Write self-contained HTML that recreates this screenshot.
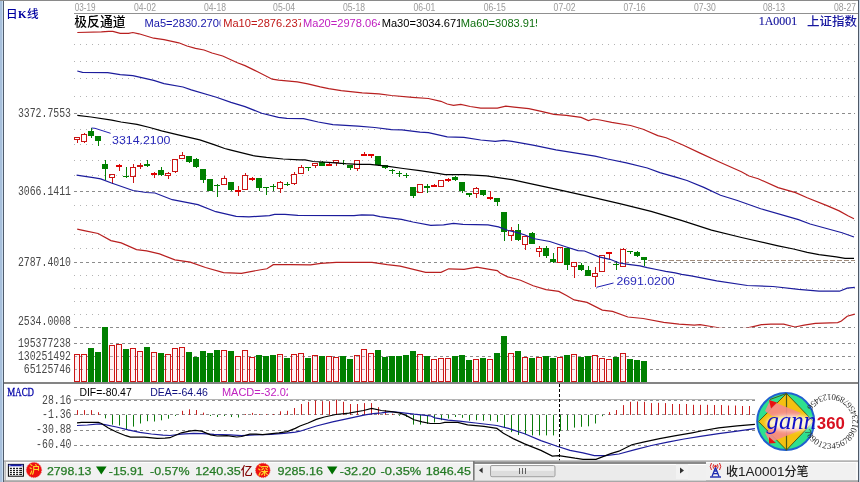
<!DOCTYPE html>
<html><head><meta charset="utf-8"><title>K</title><style>
html,body{margin:0;padding:0;background:#fff;width:860px;height:482px;overflow:hidden}
svg{display:block}
.dt{font-family:"Liberation Sans",sans-serif;font-size:10.3px;fill:#9a9a9a}
.cjk{font-family:"Liberation Sans","Noto Sans CJK SC",sans-serif;font-weight:500}
.lg{font-family:"Liberation Sans",sans-serif;font-size:11.5px}
.mono{font-family:"Liberation Mono",monospace}
.serif{font-family:"Liberation Serif",serif}
.ax{font-family:"Liberation Mono",monospace;font-size:12px;fill:#484848}
.an{font-family:"Liberation Sans",sans-serif;font-size:11.5px;fill:#2828b8}
.sb{font-family:"Liberation Sans",sans-serif;font-size:11.6px;stroke:#247a24;stroke-width:0.25px}
.sb2{font-family:"Liberation Sans",sans-serif}
</style></head>
<body><svg width="860" height="482" viewBox="0 0 860 482">
<rect x="0" y="0" width="860" height="482" fill="#fff"/>
<rect x="0" y="0" width="2" height="482" fill="#a8c0dc"/>
<rect x="2" y="0" width="1" height="482" fill="#c8dcf0"/>
<rect x="3" y="0" width="1" height="482" fill="#505c6c"/>
<rect x="0" y="0" width="860" height="1" fill="#8a8a8a"/>
<rect x="858" y="0" width="1" height="482" fill="#4e5866"/>
<rect x="859" y="0" width="1" height="482" fill="#ccd8e8"/>
<rect x="74" y="13" width="784" height="1" fill="#909090"/>
<text x="74.7" y="11.3" class="dt" textLength="20.8" lengthAdjust="spacingAndGlyphs">03-19</text>
<text x="134" y="11.3" class="dt" textLength="22" lengthAdjust="spacingAndGlyphs">04-02</text>
<text x="204" y="11.3" class="dt" textLength="22" lengthAdjust="spacingAndGlyphs">04-18</text>
<text x="273.1" y="11.3" class="dt" textLength="22" lengthAdjust="spacingAndGlyphs">05-04</text>
<text x="343" y="11.3" class="dt" textLength="22" lengthAdjust="spacingAndGlyphs">05-18</text>
<text x="413.4" y="11.3" class="dt" textLength="22" lengthAdjust="spacingAndGlyphs">06-01</text>
<text x="483.8" y="11.3" class="dt" textLength="22" lengthAdjust="spacingAndGlyphs">06-15</text>
<text x="553.6" y="11.3" class="dt" textLength="22" lengthAdjust="spacingAndGlyphs">07-02</text>
<text x="623.6" y="11.3" class="dt" textLength="22" lengthAdjust="spacingAndGlyphs">07-16</text>
<text x="693.9" y="11.3" class="dt" textLength="22" lengthAdjust="spacingAndGlyphs">07-30</text>
<text x="763" y="11.3" class="dt" textLength="22" lengthAdjust="spacingAndGlyphs">08-13</text>
<text x="834" y="11.3" class="dt" textLength="22" lengthAdjust="spacingAndGlyphs">08-27</text>
<text x="5.9" y="17.9" class="cjk" fill="#0000a0" font-size="11.6">日<tspan font-family="Liberation Serif" font-weight="bold" font-size="11" dx="0.6">K</tspan><tspan dx="0.4">线</tspan></text>
<text x="74.3" y="26.4" class="cjk" fill="#000" font-size="12.8">极反通道</text>
<defs>
<clipPath id="lc0"><rect x="143.5" y="14" width="77.0" height="14"/></clipPath>
<clipPath id="lc1"><rect x="222.2" y="14" width="78.80000000000001" height="14"/></clipPath>
<clipPath id="lc2"><rect x="302" y="14" width="78" height="14"/></clipPath>
<clipPath id="lc3"><rect x="380.7" y="14" width="79.30000000000001" height="14"/></clipPath>
<clipPath id="lc4"><rect x="459.8" y="14" width="77.19999999999999" height="14"/></clipPath>
<clipPath id="mainc"><rect x="74" y="14" width="784" height="313.4"/></clipPath>
<clipPath id="stc"><rect x="0" y="460" width="473" height="22"/></clipPath>
</defs>
<text x="144.5" y="26.7" class="lg" font-size="11.2" fill="#1414a8" clip-path="url(#lc0)" textLength="80.6" lengthAdjust="spacingAndGlyphs">Ma5=2830.2700</text>
<text x="223.2" y="26.7" class="lg" font-size="11.2" fill="#c01818" clip-path="url(#lc1)" textLength="80.6" lengthAdjust="spacingAndGlyphs">Ma10=2876.237</text>
<text x="303" y="26.7" class="lg" font-size="11.2" fill="#c020c0" clip-path="url(#lc2)" textLength="80.6" lengthAdjust="spacingAndGlyphs">Ma20=2978.064</text>
<text x="381.7" y="26.7" class="lg" font-size="11.2" fill="#000" clip-path="url(#lc3)" textLength="80.6" lengthAdjust="spacingAndGlyphs">Ma30=3034.671</text>
<text x="460.8" y="26.7" class="lg" font-size="11.2" fill="#107010" clip-path="url(#lc4)" textLength="80.6" lengthAdjust="spacingAndGlyphs">Ma60=3083.915</text>
<text x="758.8" y="25.4" class="serif" fill="#12129c" font-size="12" stroke="#12129c" stroke-width="0.15" textLength="38.4" lengthAdjust="spacingAndGlyphs">1A0001</text>
<text x="807" y="25.6" class="cjk" fill="#1818a0" font-size="12.5">上证指数</text>
<line x1="74" y1="44.5" x2="855" y2="44.5" stroke="#b2b2b2" stroke-width="1" stroke-dasharray="1 5"/>
<line x1="74" y1="61.5" x2="855" y2="61.5" stroke="#b2b2b2" stroke-width="1" stroke-dasharray="1 5"/>
<line x1="74" y1="78.5" x2="855" y2="78.5" stroke="#b2b2b2" stroke-width="1" stroke-dasharray="1 5"/>
<line x1="74" y1="96.5" x2="855" y2="96.5" stroke="#b2b2b2" stroke-width="1" stroke-dasharray="1 5"/>
<line x1="74" y1="129.5" x2="855" y2="129.5" stroke="#b2b2b2" stroke-width="1" stroke-dasharray="1 5"/>
<line x1="74" y1="144.5" x2="855" y2="144.5" stroke="#b2b2b2" stroke-width="1" stroke-dasharray="1 5"/>
<line x1="74" y1="160.5" x2="855" y2="160.5" stroke="#b2b2b2" stroke-width="1" stroke-dasharray="1 5"/>
<line x1="74" y1="175.5" x2="855" y2="175.5" stroke="#b2b2b2" stroke-width="1" stroke-dasharray="1 5"/>
<line x1="74" y1="205.5" x2="855" y2="205.5" stroke="#b2b2b2" stroke-width="1" stroke-dasharray="1 5"/>
<line x1="74" y1="220.5" x2="855" y2="220.5" stroke="#b2b2b2" stroke-width="1" stroke-dasharray="1 5"/>
<line x1="74" y1="234.5" x2="855" y2="234.5" stroke="#b2b2b2" stroke-width="1" stroke-dasharray="1 5"/>
<line x1="74" y1="248.5" x2="855" y2="248.5" stroke="#b2b2b2" stroke-width="1" stroke-dasharray="1 5"/>
<line x1="74" y1="275.5" x2="855" y2="275.5" stroke="#b2b2b2" stroke-width="1" stroke-dasharray="1 5"/>
<line x1="74" y1="288.5" x2="855" y2="288.5" stroke="#b2b2b2" stroke-width="1" stroke-dasharray="1 5"/>
<line x1="74" y1="301.5" x2="855" y2="301.5" stroke="#b2b2b2" stroke-width="1" stroke-dasharray="1 5"/>
<line x1="74" y1="314.5" x2="855" y2="314.5" stroke="#b2b2b2" stroke-width="1" stroke-dasharray="1 5"/>
<line x1="74" y1="113.5" x2="855" y2="113.5" stroke="#8c8c8c" stroke-width="1" stroke-dasharray="3 3"/>
<line x1="74" y1="191.5" x2="855" y2="191.5" stroke="#8c8c8c" stroke-width="1" stroke-dasharray="3 3"/>
<line x1="74" y1="262.5" x2="855" y2="262.5" stroke="#8c8c8c" stroke-width="1" stroke-dasharray="3 3"/>
<line x1="74" y1="327.5" x2="855" y2="327.5" stroke="#8c8c8c" stroke-width="1" stroke-dasharray="3 3"/>
<line x1="74" y1="343.5" x2="855" y2="343.5" stroke="#8c8c8c" stroke-width="1" stroke-dasharray="3 3"/>
<line x1="74" y1="356.5" x2="855" y2="356.5" stroke="#8c8c8c" stroke-width="1" stroke-dasharray="3 3"/>
<line x1="74" y1="369.5" x2="855" y2="369.5" stroke="#8c8c8c" stroke-width="1" stroke-dasharray="3 3"/>
<line x1="648" y1="260.5" x2="855" y2="260.5" stroke="#a08c7c" stroke-width="1" stroke-dasharray="5 2"/>
<text x="71" y="116.9" class="ax" text-anchor="end" textLength="53.1" lengthAdjust="spacingAndGlyphs">3372.7553</text>
<text x="71" y="195" class="ax" text-anchor="end" textLength="53.1" lengthAdjust="spacingAndGlyphs">3066.1411</text>
<text x="71" y="266.2" class="ax" text-anchor="end" textLength="53.1" lengthAdjust="spacingAndGlyphs">2787.4010</text>
<text x="71" y="324.8" class="ax" text-anchor="end" textLength="53.1" lengthAdjust="spacingAndGlyphs">2534.0008</text>
<text x="71" y="346.6" class="ax" text-anchor="end" textLength="53.1" lengthAdjust="spacingAndGlyphs">195377238</text>
<text x="71" y="359.7" class="ax" text-anchor="end" textLength="53.1" lengthAdjust="spacingAndGlyphs">130251492</text>
<text x="71" y="372.8" class="ax" text-anchor="end" textLength="47.2" lengthAdjust="spacingAndGlyphs">65125746</text>
<line x1="77.5" y1="139" x2="77.5" y2="143" stroke="#cc1414"/>
<rect x="74.5" y="137.5" width="5" height="2" fill="none" stroke="#cc1414"/>
<line x1="84.5" y1="133" x2="84.5" y2="134" stroke="#cc1414"/>
<line x1="84.5" y1="141" x2="84.5" y2="143" stroke="#cc1414"/>
<rect x="81.5" y="134.5" width="5" height="7" fill="none" stroke="#cc1414"/>
<line x1="91.5" y1="128" x2="91.5" y2="138" stroke="#008000"/>
<rect x="88" y="131" width="6" height="5" fill="#008000"/>
<line x1="98.5" y1="136" x2="98.5" y2="146" stroke="#008000"/>
<rect x="95" y="136" width="6" height="5" fill="#008000"/>
<line x1="105.5" y1="160" x2="105.5" y2="180" stroke="#008000"/>
<rect x="102" y="164" width="6" height="5" fill="#008000"/>
<line x1="112.5" y1="177" x2="112.5" y2="184" stroke="#cc1414"/>
<rect x="109.5" y="174.5" width="5" height="3" fill="none" stroke="#cc1414"/>
<line x1="119.5" y1="164" x2="119.5" y2="165" stroke="#cc1414"/>
<line x1="119.5" y1="166" x2="119.5" y2="171" stroke="#cc1414"/>
<rect x="116.5" y="165.5" width="5" height="1" fill="none" stroke="#e00000"/>
<line x1="126.5" y1="167" x2="126.5" y2="178" stroke="#008000"/>
<rect x="123" y="176" width="6" height="1" fill="#008000"/>
<line x1="133.5" y1="164" x2="133.5" y2="167" stroke="#cc1414"/>
<line x1="133.5" y1="176" x2="133.5" y2="183" stroke="#cc1414"/>
<rect x="130.5" y="167.5" width="5" height="9" fill="none" stroke="#cc1414"/>
<line x1="140.5" y1="163" x2="140.5" y2="165" stroke="#cc1414"/>
<line x1="140.5" y1="166" x2="140.5" y2="169" stroke="#cc1414"/>
<rect x="137.5" y="165.5" width="5" height="1" fill="none" stroke="#cc1414"/>
<line x1="147.5" y1="160" x2="147.5" y2="167" stroke="#008000"/>
<rect x="144" y="164" width="6" height="2" fill="#008000"/>
<line x1="154.5" y1="172" x2="154.5" y2="173" stroke="#cc1414"/>
<line x1="154.5" y1="174" x2="154.5" y2="178" stroke="#cc1414"/>
<rect x="151.5" y="173.5" width="5" height="1" fill="none" stroke="#e00000"/>
<line x1="161.5" y1="167" x2="161.5" y2="176" stroke="#008000"/>
<rect x="158" y="170" width="6" height="5" fill="#008000"/>
<line x1="168.5" y1="172" x2="168.5" y2="173" stroke="#cc1414"/>
<line x1="168.5" y1="175" x2="168.5" y2="179" stroke="#cc1414"/>
<rect x="165.5" y="173.5" width="5" height="2" fill="none" stroke="#cc1414"/>
<line x1="175.5" y1="171" x2="175.5" y2="173" stroke="#cc1414"/>
<rect x="172.5" y="159.5" width="5" height="12" fill="none" stroke="#cc1414"/>
<line x1="182.5" y1="152" x2="182.5" y2="155" stroke="#cc1414"/>
<line x1="182.5" y1="158" x2="182.5" y2="159" stroke="#cc1414"/>
<rect x="179.5" y="155.5" width="5" height="3" fill="none" stroke="#cc1414"/>
<line x1="189.5" y1="156" x2="189.5" y2="163" stroke="#008000"/>
<rect x="186" y="156" width="6" height="6" fill="#008000"/>
<line x1="196.5" y1="158" x2="196.5" y2="168" stroke="#008000"/>
<rect x="193" y="159" width="6" height="8" fill="#008000"/>
<line x1="203.5" y1="169" x2="203.5" y2="183" stroke="#008000"/>
<rect x="200" y="169" width="6" height="11" fill="#008000"/>
<line x1="210.5" y1="179" x2="210.5" y2="191" stroke="#008000"/>
<rect x="207" y="179" width="6" height="12" fill="#008000"/>
<line x1="217.5" y1="184" x2="217.5" y2="197" stroke="#008000"/>
<rect x="214" y="185" width="6" height="1" fill="#008000"/>
<line x1="224.5" y1="176" x2="224.5" y2="178" stroke="#cc1414"/>
<line x1="224.5" y1="184" x2="224.5" y2="185" stroke="#cc1414"/>
<rect x="221.5" y="178.5" width="5" height="6" fill="none" stroke="#cc1414"/>
<line x1="231.5" y1="182" x2="231.5" y2="191" stroke="#008000"/>
<rect x="228" y="182" width="6" height="8" fill="#008000"/>
<line x1="238.5" y1="186" x2="238.5" y2="190" stroke="#cc1414"/>
<line x1="238.5" y1="192" x2="238.5" y2="196" stroke="#cc1414"/>
<rect x="235.5" y="190.5" width="5" height="1" fill="none" stroke="#e00000"/>
<line x1="245.5" y1="173" x2="245.5" y2="175" stroke="#cc1414"/>
<rect x="242.5" y="175.5" width="5" height="14" fill="none" stroke="#cc1414"/>
<line x1="252.5" y1="177" x2="252.5" y2="178" stroke="#cc1414"/>
<line x1="252.5" y1="179" x2="252.5" y2="181" stroke="#cc1414"/>
<rect x="249.5" y="178.5" width="5" height="1" fill="none" stroke="#e00000"/>
<line x1="259.5" y1="178" x2="259.5" y2="191" stroke="#008000"/>
<rect x="256" y="178" width="6" height="10" fill="#008000"/>
<line x1="266.5" y1="187" x2="266.5" y2="195" stroke="#008000"/>
<rect x="263" y="187" width="6" height="1" fill="#008000"/>
<line x1="273.5" y1="184" x2="273.5" y2="191" stroke="#008000"/>
<rect x="270" y="186" width="6" height="1" fill="#008000"/>
<line x1="280.5" y1="181" x2="280.5" y2="182" stroke="#cc1414"/>
<line x1="280.5" y1="188" x2="280.5" y2="193" stroke="#cc1414"/>
<rect x="277.5" y="182.5" width="5" height="6" fill="none" stroke="#cc1414"/>
<line x1="287.5" y1="182" x2="287.5" y2="186" stroke="#008000"/>
<rect x="284" y="184" width="6" height="1" fill="#008000"/>
<line x1="294.5" y1="172" x2="294.5" y2="174" stroke="#cc1414"/>
<line x1="294.5" y1="183" x2="294.5" y2="185" stroke="#cc1414"/>
<rect x="291.5" y="174.5" width="5" height="9" fill="none" stroke="#cc1414"/>
<line x1="301.5" y1="165" x2="301.5" y2="167" stroke="#cc1414"/>
<line x1="301.5" y1="173" x2="301.5" y2="174" stroke="#cc1414"/>
<rect x="298.5" y="167.5" width="5" height="6" fill="none" stroke="#cc1414"/>
<line x1="308.5" y1="167" x2="308.5" y2="171" stroke="#008000"/>
<rect x="305" y="167" width="6" height="1" fill="#008000"/>
<line x1="315.5" y1="165" x2="315.5" y2="168" stroke="#cc1414"/>
<rect x="312.5" y="163.5" width="5" height="2" fill="none" stroke="#cc1414"/>
<line x1="322.5" y1="161" x2="322.5" y2="166" stroke="#008000"/>
<rect x="319" y="162" width="6" height="4" fill="#008000"/>
<line x1="329.5" y1="162" x2="329.5" y2="164" stroke="#cc1414"/>
<line x1="329.5" y1="165" x2="329.5" y2="166" stroke="#cc1414"/>
<rect x="326.5" y="164.5" width="5" height="1" fill="none" stroke="#e00000"/>
<line x1="336.5" y1="162" x2="336.5" y2="166" stroke="#cc1414"/>
<rect x="333.5" y="160.5" width="5" height="2" fill="none" stroke="#cc1414"/>
<line x1="343.5" y1="160" x2="343.5" y2="165" stroke="#008000"/>
<rect x="340" y="163" width="6" height="1" fill="#008000"/>
<line x1="350.5" y1="165" x2="350.5" y2="170" stroke="#008000"/>
<rect x="347" y="165" width="6" height="3" fill="#008000"/>
<line x1="357.5" y1="168" x2="357.5" y2="171" stroke="#cc1414"/>
<rect x="354.5" y="160.5" width="5" height="8" fill="none" stroke="#cc1414"/>
<line x1="364.5" y1="152" x2="364.5" y2="154" stroke="#cc1414"/>
<rect x="361.5" y="154.5" width="5" height="1" fill="none" stroke="#e00000"/>
<line x1="371.5" y1="155" x2="371.5" y2="158" stroke="#cc1414"/>
<rect x="368.5" y="154.5" width="5" height="1" fill="none" stroke="#e00000"/>
<line x1="378.5" y1="156" x2="378.5" y2="166" stroke="#008000"/>
<rect x="375" y="156" width="6" height="9" fill="#008000"/>
<line x1="385.5" y1="165" x2="385.5" y2="169" stroke="#008000"/>
<rect x="382" y="165" width="6" height="3" fill="#008000"/>
<line x1="392.5" y1="169" x2="392.5" y2="174" stroke="#008000"/>
<rect x="389" y="170" width="6" height="1" fill="#008000"/>
<line x1="399.5" y1="171" x2="399.5" y2="177" stroke="#008000"/>
<rect x="396" y="173" width="6" height="1" fill="#008000"/>
<line x1="406.5" y1="173" x2="406.5" y2="178" stroke="#008000"/>
<rect x="403" y="175" width="6" height="1" fill="#008000"/>
<line x1="413.5" y1="187" x2="413.5" y2="198" stroke="#008000"/>
<rect x="410" y="187" width="6" height="9" fill="#008000"/>
<line x1="420.5" y1="192" x2="420.5" y2="193" stroke="#cc1414"/>
<rect x="417.5" y="184.5" width="5" height="8" fill="none" stroke="#cc1414"/>
<line x1="427.5" y1="184" x2="427.5" y2="193" stroke="#008000"/>
<rect x="424" y="186" width="6" height="2" fill="#008000"/>
<line x1="434.5" y1="184" x2="434.5" y2="185" stroke="#cc1414"/>
<line x1="434.5" y1="186" x2="434.5" y2="187" stroke="#cc1414"/>
<rect x="431.5" y="185.5" width="5" height="1" fill="none" stroke="#e00000"/>
<line x1="441.5" y1="186" x2="441.5" y2="187" stroke="#cc1414"/>
<rect x="438.5" y="180.5" width="5" height="6" fill="none" stroke="#cc1414"/>
<line x1="448.5" y1="178" x2="448.5" y2="179" stroke="#cc1414"/>
<line x1="448.5" y1="180" x2="448.5" y2="182" stroke="#cc1414"/>
<rect x="445.5" y="179.5" width="5" height="1" fill="none" stroke="#e00000"/>
<line x1="455.5" y1="176" x2="455.5" y2="181" stroke="#008000"/>
<rect x="452" y="177" width="6" height="3" fill="#008000"/>
<line x1="462.5" y1="182" x2="462.5" y2="193" stroke="#008000"/>
<rect x="459" y="182" width="6" height="9" fill="#008000"/>
<line x1="469.5" y1="193" x2="469.5" y2="197" stroke="#008000"/>
<rect x="466" y="193" width="6" height="2" fill="#008000"/>
<line x1="476.5" y1="187" x2="476.5" y2="188" stroke="#cc1414"/>
<line x1="476.5" y1="193" x2="476.5" y2="198" stroke="#cc1414"/>
<rect x="473.5" y="188.5" width="5" height="5" fill="none" stroke="#cc1414"/>
<line x1="483.5" y1="190" x2="483.5" y2="196" stroke="#008000"/>
<rect x="480" y="190" width="6" height="5" fill="#008000"/>
<line x1="490.5" y1="191" x2="490.5" y2="197" stroke="#cc1414"/>
<line x1="490.5" y1="198" x2="490.5" y2="200" stroke="#cc1414"/>
<rect x="487.5" y="197.5" width="5" height="1" fill="none" stroke="#e00000"/>
<line x1="497.5" y1="198" x2="497.5" y2="206" stroke="#008000"/>
<rect x="494" y="198" width="6" height="4" fill="#008000"/>
<line x1="504.5" y1="212" x2="504.5" y2="241" stroke="#008000"/>
<rect x="501" y="212" width="6" height="20" fill="#008000"/>
<line x1="511.5" y1="227" x2="511.5" y2="230" stroke="#cc1414"/>
<line x1="511.5" y1="235" x2="511.5" y2="241" stroke="#cc1414"/>
<rect x="508.5" y="230.5" width="5" height="5" fill="none" stroke="#cc1414"/>
<line x1="518.5" y1="224" x2="518.5" y2="241" stroke="#008000"/>
<rect x="515" y="230" width="6" height="10" fill="#008000"/>
<line x1="525.5" y1="244" x2="525.5" y2="250" stroke="#cc1414"/>
<rect x="522.5" y="236.5" width="5" height="8" fill="none" stroke="#cc1414"/>
<line x1="532.5" y1="232" x2="532.5" y2="244" stroke="#008000"/>
<rect x="529" y="233" width="6" height="11" fill="#008000"/>
<line x1="539.5" y1="246" x2="539.5" y2="248" stroke="#cc1414"/>
<line x1="539.5" y1="251" x2="539.5" y2="257" stroke="#cc1414"/>
<rect x="536.5" y="248.5" width="5" height="3" fill="none" stroke="#cc1414"/>
<line x1="546.5" y1="246" x2="546.5" y2="258" stroke="#008000"/>
<rect x="543" y="248" width="6" height="8" fill="#008000"/>
<line x1="553.5" y1="253" x2="553.5" y2="263" stroke="#008000"/>
<rect x="550" y="259" width="6" height="3" fill="#008000"/>
<line x1="560.5" y1="262" x2="560.5" y2="263" stroke="#cc1414"/>
<rect x="557.5" y="247.5" width="5" height="15" fill="none" stroke="#cc1414"/>
<line x1="567.5" y1="248" x2="567.5" y2="270" stroke="#008000"/>
<rect x="564" y="248" width="6" height="17" fill="#008000"/>
<line x1="574.5" y1="266" x2="574.5" y2="278" stroke="#cc1414"/>
<rect x="571.5" y="262.5" width="5" height="4" fill="none" stroke="#cc1414"/>
<line x1="581.5" y1="263" x2="581.5" y2="271" stroke="#008000"/>
<rect x="578" y="265" width="6" height="5" fill="#008000"/>
<line x1="588.5" y1="266" x2="588.5" y2="276" stroke="#008000"/>
<rect x="585" y="270" width="6" height="6" fill="#008000"/>
<line x1="595.5" y1="267" x2="595.5" y2="273" stroke="#cc1414"/>
<line x1="595.5" y1="276" x2="595.5" y2="287" stroke="#cc1414"/>
<rect x="592.5" y="273.5" width="5" height="3" fill="none" stroke="#cc1414"/>
<rect x="599.5" y="255.5" width="5" height="16" fill="none" stroke="#cc1414"/>
<line x1="609.5" y1="254" x2="609.5" y2="259" stroke="#cc1414"/>
<rect x="606.5" y="252.5" width="5" height="1" fill="none" stroke="#e00000"/>
<line x1="616.5" y1="261" x2="616.5" y2="270" stroke="#008000"/>
<rect x="613" y="264" width="6" height="1" fill="#008000"/>
<line x1="623.5" y1="248" x2="623.5" y2="249" stroke="#cc1414"/>
<rect x="620.5" y="249.5" width="5" height="17" fill="none" stroke="#cc1414"/>
<line x1="630.5" y1="251" x2="630.5" y2="254" stroke="#008000"/>
<rect x="627" y="251" width="6" height="1" fill="#008000"/>
<line x1="637.5" y1="251" x2="637.5" y2="257" stroke="#008000"/>
<rect x="634" y="252" width="6" height="4" fill="#008000"/>
<line x1="644.5" y1="257" x2="644.5" y2="266" stroke="#008000"/>
<rect x="641" y="257" width="6" height="3" fill="#008000"/>
<polyline points="77.3,32.5 101.4,31.9 108.7,31.3 112.9,31.3 120.2,33.4 128.6,33.4 132.8,32.5 139.0,33.8 153.7,38.2 164.0,39.6 178.8,42.8 187.0,46.0 195.5,48.4 204.0,50.0 212.0,53.0 222.7,56.0 237.4,62.7 245.0,65.6 257.6,71.8 272.2,79.2 278.5,80.2 297.3,81.9 307.8,83.8 320.3,86.9 328.7,88.6 341.2,90.7 362.2,92.8 378.9,93.8 391.4,95.5 412.4,97.4 428.4,98.5 440.9,101.3 447.2,104.0 453.5,105.4 460.8,104.4 470.2,106.5 480.7,108.2 497.4,108.2 505.8,106.1 514.1,107.1 528.8,108.6 541.3,111.3 553.9,114.4 566.4,115.3 581.1,117.4 588.4,120.5 593.6,119.0 600.0,120.0 611.7,122.4 630.6,125.5 643.1,129.3 657.8,135.6 666.1,137.7 682.9,145.0 699.6,152.9 720.5,162.5 741.4,171.8 749.1,176.0 758.2,178.7 778.1,187.6 795.6,192.6 807.2,197.8 827.6,205.9 839.2,210.9 847.9,215.8 854.0,218.7" fill="none" stroke="#b82020" stroke-width="1.2" clip-path="url(#mainc)"/>
<polyline points="77.3,71.0 82.5,72.3 107.7,72.7 120.2,74.6 132.8,75.6 153.7,80.4 164.0,83.6 183.0,87.0 191.3,89.9 216.4,97.2 231.0,102.4 245.0,106.6 261.7,113.3 278.5,117.4 286.8,118.3 303.6,118.7 318.2,122.0 332.9,124.6 358.0,126.2 374.7,127.5 391.4,129.6 401.9,129.8 420.0,132.2 428.4,132.6 447.2,136.8 463.9,137.4 480.7,140.0 495.3,141.4 503.7,140.4 512.0,141.4 533.0,145.2 556.0,149.8 595.0,156.1 607.6,159.0 626.4,162.8 647.3,168.0 659.9,172.6 676.6,177.4 687.0,180.5 703.8,187.4 720.5,195.3 737.4,200.5 760.7,208.8 798.5,219.6 810.1,224.0 842.1,232.7 854.0,237.0" fill="none" stroke="#1c1c9c" stroke-width="1.2" clip-path="url(#mainc)"/>
<polyline points="77.3,115.4 91.0,117.0 111.8,120.2 121.0,122.0 137.0,124.4 149.7,127.5 161.6,130.8 178.2,134.9 199.8,139.9 214.7,144.9 224.7,148.5 230.0,149.9 253.2,155.7 266.5,157.4 283.1,159.0 299.7,159.9 305.0,159.9 313.3,161.5 328.2,162.4 344.8,163.7 358.0,164.4 370.0,164.3 386.6,166.2 403.2,168.5 419.8,170.7 436.4,173.2 445.0,174.6 464.9,174.6 486.5,175.8 499.8,177.9 512.0,179.7 530.2,183.6 560.4,190.2 590.6,196.9 620.8,203.8 651.1,211.4 681.3,220.4 711.5,230.1 741.5,237.5 778.1,245.8 793.5,249.0 807.2,252.4 819.0,254.6 836.3,256.8 845.0,258.3 854.0,258.3" fill="none" stroke="#000" stroke-width="1.2" clip-path="url(#mainc)"/>
<polyline points="76.6,175.1 94.9,177.8 100.7,178.9 111.5,183.0 133.0,190.5 146.3,192.5 155.0,193.0 172.3,199.7 197.9,204.6 215.8,211.7 236.2,216.3 249.0,216.9 269.5,215.6 274.6,214.3 285.0,214.3 297.8,215.3 354.0,215.6 361.7,214.8 373.2,215.1 380.0,216.7 387.3,217.6 401.5,219.3 412.9,222.0 430.8,225.3 443.6,224.8 453.5,223.3 463.0,224.3 488.0,224.9 498.5,226.9 508.1,230.5 516.6,232.4 525.0,235.0 533.2,238.5 549.8,241.5 566.4,247.0 578.0,250.6 584.5,251.0 599.0,256.9 610.0,259.3 619.3,263.0 628.3,264.3 640.0,265.9 647.2,267.7 656.5,269.5 665.7,271.3 675.1,272.8 681.6,274.4 691.2,275.8 716.7,280.9 747.4,285.5 773.0,286.5 798.6,289.4 819.0,291.2 839.5,291.2 847.2,288.1 854.8,287.3" fill="none" stroke="#1c1c9c" stroke-width="1.2" clip-path="url(#mainc)"/>
<polyline points="77.2,229.1 85.3,230.9 98.1,233.5 110.9,240.6 121.2,242.9 136.5,249.6 146.7,250.9 159.5,253.9 174.9,259.8 190.2,262.1 205.5,267.5 223.5,272.6 241.4,273.4 259.3,270.0 266.9,268.8 273.3,264.7 290.0,264.7 310.6,264.9 320.8,263.4 336.2,262.4 372.0,262.4 387.3,264.7 400.1,266.2 425.7,272.4 441.0,272.4 448.7,268.8 464.0,269.3 476.8,267.2 489.6,269.3 497.3,270.6 500.0,273.0 507.7,276.9 520.5,280.2 533.2,285.8 546.0,289.6 558.8,291.4 566.5,295.5 574.2,299.9 587.0,302.4 602.3,310.1 612.5,311.4 627.9,317.0 643.2,318.5 663.7,322.4 679.0,324.2 694.4,325.2 700.0,324.7 711.2,326.5 717.0,327.6 720.5,328.2 733.0,329.0 746.5,328.2 750.0,327.3 761.4,324.7 770.7,324.1 783.7,324.1 794.9,327.0 804.2,325.2 815.3,323.3 837.7,322.6 841.4,321.0 847.2,316.2 854.8,314.2" fill="none" stroke="#b82020" stroke-width="1.2" clip-path="url(#mainc)"/>
<polyline points="91.5,128 95,128.3 110.6,133.3" fill="none" stroke="#2020b0" stroke-width="1"/>
<text x="112" y="143.9" class="an" textLength="58.5" lengthAdjust="spacingAndGlyphs">3314.2100</text>
<polyline points="596.5,287.3 613.5,283" fill="none" stroke="#2020b0" stroke-width="1"/>
<text x="616.4" y="285.3" class="an" textLength="58.3" lengthAdjust="spacingAndGlyphs">2691.0200</text>
<rect x="74.5" y="354.5" width="5" height="27" fill="#ffd8e0" fill-opacity="0.35" stroke="#cc1414"/>
<rect x="81.5" y="354.5" width="5" height="27" fill="#ffd8e0" fill-opacity="0.35" stroke="#cc1414"/>
<rect x="88" y="348" width="6" height="34" fill="#008000"/>
<rect x="95" y="352" width="6" height="30" fill="#008000"/>
<rect x="102" y="327" width="6" height="55" fill="#008000"/>
<rect x="109.5" y="345.5" width="5" height="36" fill="#ffd8e0" fill-opacity="0.35" stroke="#cc1414"/>
<rect x="116.5" y="344.5" width="5" height="37" fill="#ffd8e0" fill-opacity="0.35" stroke="#cc1414"/>
<rect x="123" y="349" width="6" height="33" fill="#008000"/>
<rect x="130.5" y="348.5" width="5" height="33" fill="#ffd8e0" fill-opacity="0.35" stroke="#cc1414"/>
<rect x="137.5" y="351.5" width="5" height="30" fill="#ffd8e0" fill-opacity="0.35" stroke="#cc1414"/>
<rect x="144" y="347" width="6" height="35" fill="#008000"/>
<rect x="151.5" y="352.5" width="5" height="29" fill="#ffd8e0" fill-opacity="0.35" stroke="#cc1414"/>
<rect x="158" y="353" width="6" height="29" fill="#008000"/>
<rect x="165.5" y="354.5" width="5" height="27" fill="#ffd8e0" fill-opacity="0.35" stroke="#cc1414"/>
<rect x="172.5" y="348.5" width="5" height="33" fill="#ffd8e0" fill-opacity="0.35" stroke="#cc1414"/>
<rect x="179.5" y="347.5" width="5" height="34" fill="#ffd8e0" fill-opacity="0.35" stroke="#cc1414"/>
<rect x="186" y="352" width="6" height="30" fill="#008000"/>
<rect x="193" y="357" width="6" height="25" fill="#008000"/>
<rect x="200" y="351" width="6" height="31" fill="#008000"/>
<rect x="207" y="353" width="6" height="29" fill="#008000"/>
<rect x="214" y="350" width="6" height="32" fill="#008000"/>
<rect x="221.5" y="350.5" width="5" height="31" fill="#ffd8e0" fill-opacity="0.35" stroke="#cc1414"/>
<rect x="228" y="351" width="6" height="31" fill="#008000"/>
<rect x="235.5" y="356.5" width="5" height="25" fill="#ffd8e0" fill-opacity="0.35" stroke="#cc1414"/>
<rect x="242.5" y="350.5" width="5" height="31" fill="#ffd8e0" fill-opacity="0.35" stroke="#cc1414"/>
<rect x="249.5" y="357.5" width="5" height="24" fill="#ffd8e0" fill-opacity="0.35" stroke="#cc1414"/>
<rect x="256" y="355" width="6" height="27" fill="#008000"/>
<rect x="263" y="356" width="6" height="26" fill="#008000"/>
<rect x="270" y="355" width="6" height="27" fill="#008000"/>
<rect x="277.5" y="354.5" width="5" height="27" fill="#ffd8e0" fill-opacity="0.35" stroke="#cc1414"/>
<rect x="284" y="358" width="6" height="24" fill="#008000"/>
<rect x="291.5" y="354.5" width="5" height="27" fill="#ffd8e0" fill-opacity="0.35" stroke="#cc1414"/>
<rect x="298.5" y="353.5" width="5" height="28" fill="#ffd8e0" fill-opacity="0.35" stroke="#cc1414"/>
<rect x="305" y="358" width="6" height="24" fill="#008000"/>
<rect x="312.5" y="355.5" width="5" height="26" fill="#ffd8e0" fill-opacity="0.35" stroke="#cc1414"/>
<rect x="319" y="356" width="6" height="26" fill="#008000"/>
<rect x="326.5" y="356.5" width="5" height="25" fill="#ffd8e0" fill-opacity="0.35" stroke="#cc1414"/>
<rect x="333.5" y="357.5" width="5" height="24" fill="#ffd8e0" fill-opacity="0.35" stroke="#cc1414"/>
<rect x="340" y="356" width="6" height="26" fill="#008000"/>
<rect x="347" y="359" width="6" height="23" fill="#008000"/>
<rect x="354.5" y="355.5" width="5" height="26" fill="#ffd8e0" fill-opacity="0.35" stroke="#cc1414"/>
<rect x="361.5" y="349.5" width="5" height="32" fill="#ffd8e0" fill-opacity="0.35" stroke="#cc1414"/>
<rect x="368.5" y="353.5" width="5" height="28" fill="#ffd8e0" fill-opacity="0.35" stroke="#cc1414"/>
<rect x="375" y="350" width="6" height="32" fill="#008000"/>
<rect x="382" y="357" width="6" height="25" fill="#008000"/>
<rect x="389" y="356" width="6" height="26" fill="#008000"/>
<rect x="396" y="356" width="6" height="26" fill="#008000"/>
<rect x="403" y="355" width="6" height="27" fill="#008000"/>
<rect x="410" y="351" width="6" height="31" fill="#008000"/>
<rect x="417.5" y="354.5" width="5" height="27" fill="#ffd8e0" fill-opacity="0.35" stroke="#cc1414"/>
<rect x="424" y="356" width="6" height="26" fill="#008000"/>
<rect x="431.5" y="359.5" width="5" height="22" fill="#ffd8e0" fill-opacity="0.35" stroke="#cc1414"/>
<rect x="438.5" y="358.5" width="5" height="23" fill="#ffd8e0" fill-opacity="0.35" stroke="#cc1414"/>
<rect x="445.5" y="358.5" width="5" height="23" fill="#ffd8e0" fill-opacity="0.35" stroke="#cc1414"/>
<rect x="452" y="356" width="6" height="26" fill="#008000"/>
<rect x="459" y="355" width="6" height="27" fill="#008000"/>
<rect x="466" y="360" width="6" height="22" fill="#008000"/>
<rect x="473.5" y="359.5" width="5" height="22" fill="#ffd8e0" fill-opacity="0.35" stroke="#cc1414"/>
<rect x="480" y="358" width="6" height="24" fill="#008000"/>
<rect x="487.5" y="359.5" width="5" height="22" fill="#ffd8e0" fill-opacity="0.35" stroke="#cc1414"/>
<rect x="494" y="353" width="6" height="29" fill="#008000"/>
<rect x="501" y="336" width="6" height="46" fill="#008000"/>
<rect x="508.5" y="353.5" width="5" height="28" fill="#ffd8e0" fill-opacity="0.35" stroke="#cc1414"/>
<rect x="515" y="351" width="6" height="31" fill="#008000"/>
<rect x="522.5" y="357.5" width="5" height="24" fill="#ffd8e0" fill-opacity="0.35" stroke="#cc1414"/>
<rect x="529" y="358" width="6" height="24" fill="#008000"/>
<rect x="536.5" y="357.5" width="5" height="24" fill="#ffd8e0" fill-opacity="0.35" stroke="#cc1414"/>
<rect x="543" y="356" width="6" height="26" fill="#008000"/>
<rect x="550" y="358" width="6" height="24" fill="#008000"/>
<rect x="557.5" y="357.5" width="5" height="24" fill="#ffd8e0" fill-opacity="0.35" stroke="#cc1414"/>
<rect x="564" y="355" width="6" height="27" fill="#008000"/>
<rect x="571.5" y="354.5" width="5" height="27" fill="#ffd8e0" fill-opacity="0.35" stroke="#cc1414"/>
<rect x="578" y="357" width="6" height="25" fill="#008000"/>
<rect x="585" y="356" width="6" height="26" fill="#008000"/>
<rect x="592.5" y="355.5" width="5" height="26" fill="#ffd8e0" fill-opacity="0.35" stroke="#cc1414"/>
<rect x="599.5" y="358.5" width="5" height="23" fill="#ffd8e0" fill-opacity="0.35" stroke="#cc1414"/>
<rect x="606.5" y="359.5" width="5" height="22" fill="#ffd8e0" fill-opacity="0.35" stroke="#cc1414"/>
<rect x="613" y="357" width="6" height="25" fill="#008000"/>
<rect x="620.5" y="353.5" width="5" height="28" fill="#ffd8e0" fill-opacity="0.35" stroke="#cc1414"/>
<rect x="627" y="359" width="6" height="23" fill="#008000"/>
<rect x="634" y="360" width="6" height="22" fill="#008000"/>
<rect x="641" y="361" width="6" height="21" fill="#008000"/>
<rect x="4" y="382" width="854" height="2" fill="#848484"/>
<text x="7.3" y="395.7" class="serif" fill="#0000a8" font-size="12.5" stroke="#0000a8" stroke-width="0.3" textLength="26.7" lengthAdjust="spacingAndGlyphs">MACD</text>
<text x="79.4" y="395.7" class="lg" fill="#000" textLength="52.3" lengthAdjust="spacingAndGlyphs">DIF=-80.47</text>
<text x="150.2" y="395.7" class="lg" fill="#101080" textLength="57.7" lengthAdjust="spacingAndGlyphs">DEA=-64.46</text>
<defs><clipPath id="mcl"><rect x="220" y="384" width="68" height="14"/></clipPath></defs>
<text x="221.9" y="395.7" class="lg" fill="#c020c0" clip-path="url(#mcl)" textLength="70" lengthAdjust="spacingAndGlyphs">MACD=-32.02</text>
<text x="71.5" y="403.5" class="ax" text-anchor="end" textLength="29.5" lengthAdjust="spacingAndGlyphs">28.16</text>
<text x="71.5" y="418.4" class="ax" text-anchor="end" textLength="29.5" lengthAdjust="spacingAndGlyphs">-1.36</text>
<text x="71.5" y="433.2" class="ax" text-anchor="end" textLength="35.4" lengthAdjust="spacingAndGlyphs">-30.88</text>
<text x="71.5" y="448.4" class="ax" text-anchor="end" textLength="35.4" lengthAdjust="spacingAndGlyphs">-60.40</text>
<line x1="74" y1="399.5" x2="755" y2="399.5" stroke="#b4b4b4"/>
<line x1="74" y1="400.5" x2="755" y2="400.5" stroke="#8c8c8c" stroke-dasharray="3 3"/>
<line x1="74" y1="414.5" x2="755" y2="414.5" stroke="#8c8c8c" stroke-dasharray="3 3"/>
<line x1="74" y1="430.5" x2="755" y2="430.5" stroke="#8c8c8c" stroke-dasharray="3 3"/>
<line x1="74" y1="445.5" x2="755" y2="445.5" stroke="#8c8c8c" stroke-dasharray="3 3"/>
<line x1="77.5" y1="414.9" x2="77.5" y2="410.1" stroke="#c82020"/>
<line x1="84.5" y1="414.9" x2="84.5" y2="410.1" stroke="#c82020"/>
<line x1="91.5" y1="414.9" x2="91.5" y2="410.1" stroke="#c82020"/>
<line x1="98.5" y1="414.9" x2="98.5" y2="412.2" stroke="#c82020"/>
<line x1="105.5" y1="414.9" x2="105.5" y2="418.3" stroke="#0a7a0a"/>
<line x1="112.5" y1="414.9" x2="112.5" y2="424.7" stroke="#0a7a0a"/>
<line x1="119.5" y1="414.9" x2="119.5" y2="425.5" stroke="#0a7a0a"/>
<line x1="126.5" y1="414.9" x2="126.5" y2="429.3" stroke="#0a7a0a"/>
<line x1="133.5" y1="414.9" x2="133.5" y2="426.6" stroke="#0a7a0a"/>
<line x1="140.5" y1="414.9" x2="140.5" y2="423.5" stroke="#0a7a0a"/>
<line x1="147.5" y1="414.9" x2="147.5" y2="421.2" stroke="#0a7a0a"/>
<line x1="154.5" y1="414.9" x2="154.5" y2="421.5" stroke="#0a7a0a"/>
<line x1="161.5" y1="414.9" x2="161.5" y2="420.3" stroke="#0a7a0a"/>
<line x1="168.5" y1="414.9" x2="168.5" y2="418.7" stroke="#0a7a0a"/>
<line x1="175.5" y1="414.9" x2="175.5" y2="416" stroke="#0a7a0a"/>
<line x1="182.5" y1="414.9" x2="182.5" y2="410.8" stroke="#c82020"/>
<line x1="189.5" y1="414.9" x2="189.5" y2="409.3" stroke="#c82020"/>
<line x1="196.5" y1="414.9" x2="196.5" y2="410" stroke="#c82020"/>
<line x1="203.5" y1="414.9" x2="203.5" y2="412.6" stroke="#c82020"/>
<line x1="210.5" y1="414.9" x2="210.5" y2="416" stroke="#0a7a0a"/>
<line x1="217.5" y1="414.9" x2="217.5" y2="417" stroke="#0a7a0a"/>
<line x1="224.5" y1="414.9" x2="224.5" y2="416" stroke="#0a7a0a"/>
<line x1="231.5" y1="414.9" x2="231.5" y2="417" stroke="#0a7a0a"/>
<line x1="238.5" y1="414.9" x2="238.5" y2="417.5" stroke="#0a7a0a"/>
<line x1="245.5" y1="414.9" x2="245.5" y2="414" stroke="#c82020"/>
<line x1="252.5" y1="414.9" x2="252.5" y2="412.9" stroke="#c82020"/>
<line x1="259.5" y1="414.9" x2="259.5" y2="414" stroke="#c82020"/>
<line x1="266.5" y1="414.9" x2="266.5" y2="414" stroke="#c82020"/>
<line x1="273.5" y1="414.9" x2="273.5" y2="414" stroke="#c82020"/>
<line x1="280.5" y1="414.9" x2="280.5" y2="411.3" stroke="#c82020"/>
<line x1="287.5" y1="414.9" x2="287.5" y2="410.8" stroke="#c82020"/>
<line x1="294.5" y1="414.9" x2="294.5" y2="408" stroke="#c82020"/>
<line x1="301.5" y1="414.9" x2="301.5" y2="404" stroke="#c82020"/>
<line x1="308.5" y1="414.9" x2="308.5" y2="401.8" stroke="#c82020"/>
<line x1="315.5" y1="414.9" x2="315.5" y2="400.4" stroke="#c82020"/>
<line x1="322.5" y1="414.9" x2="322.5" y2="401.2" stroke="#c82020"/>
<line x1="329.5" y1="414.9" x2="329.5" y2="401.2" stroke="#c82020"/>
<line x1="336.5" y1="414.9" x2="336.5" y2="399.9" stroke="#c82020"/>
<line x1="343.5" y1="414.9" x2="343.5" y2="401.8" stroke="#c82020"/>
<line x1="350.5" y1="414.9" x2="350.5" y2="404" stroke="#c82020"/>
<line x1="357.5" y1="414.9" x2="357.5" y2="404" stroke="#c82020"/>
<line x1="364.5" y1="414.9" x2="364.5" y2="403.1" stroke="#c82020"/>
<line x1="371.5" y1="414.9" x2="371.5" y2="403.1" stroke="#c82020"/>
<line x1="378.5" y1="414.9" x2="378.5" y2="407.2" stroke="#c82020"/>
<line x1="385.5" y1="414.9" x2="385.5" y2="410" stroke="#c82020"/>
<line x1="392.5" y1="414.9" x2="392.5" y2="413.7" stroke="#c82020"/>
<line x1="399.5" y1="414.9" x2="399.5" y2="415.8" stroke="#0a7a0a"/>
<line x1="406.5" y1="414.9" x2="406.5" y2="417" stroke="#0a7a0a"/>
<line x1="413.5" y1="414.9" x2="413.5" y2="424.6" stroke="#0a7a0a"/>
<line x1="420.5" y1="414.9" x2="420.5" y2="424.6" stroke="#0a7a0a"/>
<line x1="427.5" y1="414.9" x2="427.5" y2="424" stroke="#0a7a0a"/>
<line x1="434.5" y1="414.9" x2="434.5" y2="422.4" stroke="#0a7a0a"/>
<line x1="441.5" y1="414.9" x2="441.5" y2="420.2" stroke="#0a7a0a"/>
<line x1="448.5" y1="414.9" x2="448.5" y2="418.6" stroke="#0a7a0a"/>
<line x1="455.5" y1="414.9" x2="455.5" y2="417" stroke="#0a7a0a"/>
<line x1="462.5" y1="414.9" x2="462.5" y2="417.8" stroke="#0a7a0a"/>
<line x1="469.5" y1="414.9" x2="469.5" y2="420.7" stroke="#0a7a0a"/>
<line x1="476.5" y1="414.9" x2="476.5" y2="420.2" stroke="#0a7a0a"/>
<line x1="483.5" y1="414.9" x2="483.5" y2="420.7" stroke="#0a7a0a"/>
<line x1="490.5" y1="414.9" x2="490.5" y2="420.7" stroke="#0a7a0a"/>
<line x1="497.5" y1="414.9" x2="497.5" y2="421.9" stroke="#0a7a0a"/>
<line x1="504.5" y1="414.9" x2="504.5" y2="427.6" stroke="#0a7a0a"/>
<line x1="511.5" y1="414.9" x2="511.5" y2="432.1" stroke="#0a7a0a"/>
<line x1="518.5" y1="414.9" x2="518.5" y2="434.9" stroke="#0a7a0a"/>
<line x1="525.5" y1="414.9" x2="525.5" y2="434.1" stroke="#0a7a0a"/>
<line x1="532.5" y1="414.9" x2="532.5" y2="435.4" stroke="#0a7a0a"/>
<line x1="539.5" y1="414.9" x2="539.5" y2="435.4" stroke="#0a7a0a"/>
<line x1="546.5" y1="414.9" x2="546.5" y2="435.4" stroke="#0a7a0a"/>
<line x1="553.5" y1="414.9" x2="553.5" y2="435.4" stroke="#0a7a0a"/>
<line x1="560.5" y1="414.9" x2="560.5" y2="430.8" stroke="#0a7a0a"/>
<line x1="567.5" y1="414.9" x2="567.5" y2="430" stroke="#0a7a0a"/>
<line x1="574.5" y1="414.9" x2="574.5" y2="427.6" stroke="#0a7a0a"/>
<line x1="581.5" y1="414.9" x2="581.5" y2="426.8" stroke="#0a7a0a"/>
<line x1="588.5" y1="414.9" x2="588.5" y2="426.3" stroke="#0a7a0a"/>
<line x1="595.5" y1="414.9" x2="595.5" y2="423.5" stroke="#0a7a0a"/>
<line x1="602.5" y1="414.9" x2="602.5" y2="416.2" stroke="#0a7a0a"/>
<line x1="609.5" y1="414.9" x2="609.5" y2="412.1" stroke="#c82020"/>
<line x1="616.5" y1="414.9" x2="616.5" y2="410" stroke="#c82020"/>
<line x1="623.5" y1="414.9" x2="623.5" y2="405.1" stroke="#c82020"/>
<line x1="630.5" y1="414.9" x2="630.5" y2="401.8" stroke="#c82020"/>
<line x1="637.5" y1="414.9" x2="637.5" y2="401.5" stroke="#c82020"/>
<line x1="644.5" y1="414.9" x2="644.5" y2="401.8" stroke="#c82020"/>
<line x1="651.5" y1="414.9" x2="651.5" y2="403.1" stroke="#c82020"/>
<line x1="658.5" y1="414.9" x2="658.5" y2="402.8" stroke="#c82020"/>
<line x1="665.5" y1="414.9" x2="665.5" y2="403.1" stroke="#c82020"/>
<line x1="672.5" y1="414.9" x2="672.5" y2="404" stroke="#c82020"/>
<line x1="679.5" y1="414.9" x2="679.5" y2="404" stroke="#c82020"/>
<line x1="686.5" y1="414.9" x2="686.5" y2="404" stroke="#c82020"/>
<line x1="693.5" y1="414.9" x2="693.5" y2="404.8" stroke="#c82020"/>
<line x1="700.5" y1="414.9" x2="700.5" y2="404.8" stroke="#c82020"/>
<line x1="707.5" y1="414.9" x2="707.5" y2="404.8" stroke="#c82020"/>
<line x1="714.5" y1="414.9" x2="714.5" y2="405" stroke="#c82020"/>
<line x1="721.5" y1="414.9" x2="721.5" y2="405" stroke="#c82020"/>
<line x1="728.5" y1="414.9" x2="728.5" y2="405.5" stroke="#c82020"/>
<line x1="735.5" y1="414.9" x2="735.5" y2="405.5" stroke="#c82020"/>
<line x1="742.5" y1="414.9" x2="742.5" y2="406" stroke="#c82020"/>
<line x1="749.5" y1="414.9" x2="749.5" y2="406" stroke="#c82020"/>
<polyline points="77.0,425.5 87.4,425.0 99.1,423.8 104.9,424.7 116.5,427.0 128.1,429.9 139.8,432.4 151.4,434.0 163.0,435.1 170.0,435.5 181.3,434.1 193.5,433.3 202.5,433.6 213.9,434.4 230.1,434.9 241.5,435.7 254.6,434.9 270.9,434.4 283.9,433.3 295.3,432.1 300.0,431.2 316.3,426.0 332.6,421.9 348.9,418.3 365.1,414.9 373.3,413.7 381.4,412.9 391.2,411.6 401.0,412.6 414.0,414.2 430.3,415.8 435.0,417.8 448.0,420.2 459.4,421.1 475.7,423.0 496.9,425.5 508.3,428.4 524.6,433.8 540.9,440.6 557.1,446.3 570.0,450.4 583.0,452.8 594.4,455.6 605.8,455.6 618.9,454.0 635.1,449.6 651.4,445.5 667.7,442.2 684.0,439.0 700.3,436.4 718.6,433.7 737.2,431.1 754.9,428.7" fill="none" stroke="#1c1c9c" stroke-width="1.2"/>
<polyline points="77.0,422.9 81.6,422.3 98.5,422.3 101.4,423.5 108.4,428.1 116.5,432.0 125.8,435.7 130.5,437.1 144.4,437.1 157.2,438.3 165.0,438.2 169.9,437.7 181.3,432.8 189.4,431.2 195.1,430.3 201.6,431.2 210.6,434.9 217.1,436.0 226.9,435.7 236.7,437.0 241.5,436.5 249.7,434.1 256.2,434.1 262.7,434.6 279.0,432.8 287.1,431.6 295.3,428.4 300.0,426.0 308.1,423.0 316.3,419.4 324.4,417.0 335.8,414.5 348.9,413.2 363.5,410.5 371.7,408.4 381.4,410.5 391.2,411.6 399.3,412.9 405.9,415.4 414.0,419.8 422.1,421.9 430.3,423.5 440.0,423.5 444.8,422.4 457.8,422.4 467.6,424.8 483.9,426.3 496.9,428.4 503.4,433.3 513.2,438.6 524.6,443.9 540.9,450.4 552.3,456.1 558.8,455.6 575.0,458.2 583.0,459.3 596.0,459.3 610.7,453.6 618.9,451.2 631.9,444.7 643.3,442.2 659.6,438.6 675.9,435.7 692.1,432.8 703.5,430.5 718.6,427.8 737.2,425.9 754.9,424.4" fill="none" stroke="#000" stroke-width="1.2"/>
<line x1="559.5" y1="384" x2="559.5" y2="461" stroke="#000" stroke-dasharray="3 2"/>
<rect x="4" y="460.5" width="854" height="1" fill="#a0a0a0"/>
<rect x="4" y="460.5" width="854" height="21.5" fill="#f1f1f1"/>
<rect x="5" y="462" width="852" height="1" fill="#fdfdfd"/>
<rect x="856" y="461" width="2" height="21" fill="#fafafa"/>
<rect x="4" y="460.6" width="854" height="1.2" fill="#a4a4a4"/>
<rect x="4.6" y="461" width="1.2" height="20" fill="#b0b0b0"/>
<rect x="4" y="480.2" width="854" height="1.8" fill="#a8a8a8"/>
<rect x="8.4" y="464.4" width="15" height="11.8" fill="#fff" stroke="#000" stroke-width="1"/>
<rect x="8.4" y="464.4" width="15" height="1.9" fill="#1a20b0"/>
<rect x="9.3" y="464.9" width="1" height="0.9" fill="#fff"/><rect x="21.6" y="464.9" width="1" height="0.9" fill="#fff"/>
<rect x="9.9" y="467.8" width="2.0" height="1.1" fill="#000"/>
<rect x="13.0" y="467.8" width="2.0" height="1.1" fill="#000"/>
<rect x="16.1" y="467.8" width="2.0" height="1.1" fill="#000"/>
<rect x="19.2" y="467.8" width="2.8" height="1.1" fill="#000"/>
<rect x="9.9" y="469.8" width="2.0" height="1.1" fill="#000"/>
<rect x="13.0" y="469.8" width="2.0" height="1.1" fill="#000"/>
<rect x="16.1" y="469.8" width="2.0" height="1.1" fill="#000"/>
<rect x="19.2" y="469.8" width="2.8" height="1.1" fill="#000"/>
<rect x="9.9" y="471.8" width="2.0" height="1.1" fill="#000"/>
<rect x="13.0" y="471.8" width="2.0" height="1.1" fill="#000"/>
<rect x="16.1" y="471.8" width="2.0" height="1.1" fill="#000"/>
<rect x="19.2" y="471.8" width="2.8" height="1.1" fill="#000"/>
<rect x="9.9" y="473.8" width="2.0" height="1.1" fill="#000"/>
<rect x="13.0" y="473.8" width="2.0" height="1.1" fill="#000"/>
<rect x="16.1" y="473.8" width="2.0" height="1.1" fill="#000"/>
<rect x="19.2" y="473.8" width="2.8" height="1.1" fill="#000"/>
<circle cx="34" cy="470" r="7.6" fill="#ee1010" stroke="#f03030" stroke-width="0.8" stroke-dasharray="1 1"/><text x="34.5" y="474.2" text-anchor="middle" class="cjk" font-size="11" fill="#ffd828">沪</text>
<circle cx="262.8" cy="470.4" r="7.2" fill="#ee1010" stroke="#f03030" stroke-width="0.8" stroke-dasharray="1 1"/><text x="263.3" y="474.59999999999997" text-anchor="middle" class="cjk" font-size="11" fill="#ffd828">深</text>
<text x="46.9" y="474.6" class="sb" fill="#247a24" textLength="44.6" lengthAdjust="spacingAndGlyphs" clip-path="url(#stc)">2798.13</text>
<polygon points="96,466.5 106.6,466.5 101.3,474.4" fill="#007000"/>
<text x="108.8" y="474.6" class="sb" fill="#247a24" textLength="34.9" lengthAdjust="spacingAndGlyphs" clip-path="url(#stc)">-15.91</text>
<text x="150" y="474.6" class="sb" fill="#247a24" textLength="39.5" lengthAdjust="spacingAndGlyphs" clip-path="url(#stc)">-0.57%</text>
<text x="195.3" y="474.6" class="sb" fill="#247a24" textLength="45.4" lengthAdjust="spacingAndGlyphs" clip-path="url(#stc)">1240.35</text>
<text x="240.7" y="475.6" class="cjk" font-size="12" fill="#800000">亿</text>
<text x="277.6" y="474.6" class="sb" fill="#247a24" textLength="45.4" lengthAdjust="spacingAndGlyphs" clip-path="url(#stc)">9285.16</text>
<polygon points="327,466.5 337.4,466.5 332.2,474.4" fill="#007000"/>
<text x="339.8" y="474.6" class="sb" fill="#247a24" textLength="36.0" lengthAdjust="spacingAndGlyphs" clip-path="url(#stc)">-32.20</text>
<text x="380.5" y="474.6" class="sb" fill="#247a24" textLength="40.7" lengthAdjust="spacingAndGlyphs" clip-path="url(#stc)">-0.35%</text>
<text x="425.8" y="474.6" class="sb" fill="#247a24" textLength="45.2" lengthAdjust="spacingAndGlyphs" clip-path="url(#stc)">1846.45</text>
<rect x="473" y="461" width="233" height="19.5" fill="#f0f0f0"/>
<rect x="474" y="464" width="214" height="16" fill="#ebebeb"/>
<rect x="474" y="464" width="232" height="1" fill="#ffffff"/>
<rect x="473" y="461" width="233" height="1" fill="#a8a8a8"/>
<rect x="473" y="462" width="233" height="2" fill="#8a8a8a"/>
<rect x="473" y="461" width="1.6" height="19.5" fill="#7a7a7a"/>
<rect x="676" y="464" width="12" height="15" fill="#f2f2f2"/>
<polygon points="482.6,467.5 482.6,473.2 479,470.3" fill="#303030"/>
<rect x="490.5" y="465.5" width="64.5" height="11.2" rx="1.5" fill="#dddddd" stroke="#a0a0a0"/>
<rect x="491.5" y="466.3" width="62.5" height="4.5" fill="#efefef"/>
<line x1="519.5" y1="468" x2="519.5" y2="474" stroke="#606060"/>
<line x1="522.5" y1="468" x2="522.5" y2="474" stroke="#606060"/>
<line x1="525.5" y1="468" x2="525.5" y2="474" stroke="#606060"/>
<polygon points="680,467.4 680,473.5 684,470.4" fill="#303030"/>
<g stroke="#d82020" fill="none" stroke-width="1"><path d="M711.5,463 Q709,466.5 711.5,470"/><path d="M713.6,464.3 Q712.4,466.5 713.6,468.6"/><path d="M719.5,463 Q722,466.5 719.5,470"/><path d="M717.4,464.3 Q718.6,466.5 717.4,468.6"/></g>
<circle cx="715.5" cy="466.2" r="1.2" fill="#d82020"/>
<path d="M715.5,467.5 L712,476.5 M715.5,467.5 L719,476.5 M713,473.6 L718,473.6 M713.8,471 L717.2,471" stroke="#1a2ab0" stroke-width="1.3" fill="none"/>
<rect x="710" y="476.3" width="11" height="1.4" fill="#1a2ab0"/>
<text x="726" y="475.8" class="cjk" font-size="12" fill="#202020">收<tspan class="sb2" font-size="13.5">1A0001</tspan>分笔</text>
<g>
<circle cx="785.7" cy="421.6" r="28.5" fill="#2ee08e" stroke="#2060d0" stroke-width="2"/>
<polygon points="786.5,393.5 813.5,421.6 786.5,450 758.5,421.6" fill="#f4c010" stroke="#4a5a18" stroke-width="1"/>
<polyline points="770,399.5 786.5,393.5" stroke="#4a5a18" fill="none"/>
<line x1="786.5" y1="393" x2="786.5" y2="450.5" stroke="#4a5a18" stroke-width="1.2"/>
<polygon points="770,400.5 801,413 796,417 772,416 765,411" fill="#f58a8a" opacity="0.9"/>
<polygon points="770,442.5 801,430 796,426.5 772,427.5 765,433" fill="#f58a8a" opacity="0.9"/>
<polygon points="769,400 777,402.5 771,408.5" fill="#e81010"/>
<polygon points="769,437 776,443 769,443.5" fill="#e81010"/>
<filter id="gl" x="-20%" y="-50%" width="140%" height="200%"><feGaussianBlur stdDeviation="2"/></filter>
<ellipse cx="791" cy="423" rx="25" ry="7.5" fill="#ffffff" opacity="0.85" filter="url(#gl)"/>
<text x="766.5" y="428.6" font-family="Liberation Serif" font-style="italic" font-size="26" fill="#1010c8" textLength="49.5" lengthAdjust="spacingAndGlyphs">gann</text>
<text x="816.8" y="428.6" font-family="Liberation Sans" font-weight="bold" font-size="16.3" fill="#d81020" textLength="28" lengthAdjust="spacingAndGlyphs">360</text>
<path id="ring" d="M 804.66,430.91 A 27.5 27.5 0 1 0 806.68,407.75" fill="none"/>
<text font-family="Liberation Serif" font-size="8.8" fill="#2c2c2c" textLength="148" lengthAdjust="spacing"><textPath href="#ring" textLength="148">789012345678901234567890123456</textPath></text>
</g>
</svg></body></html>
